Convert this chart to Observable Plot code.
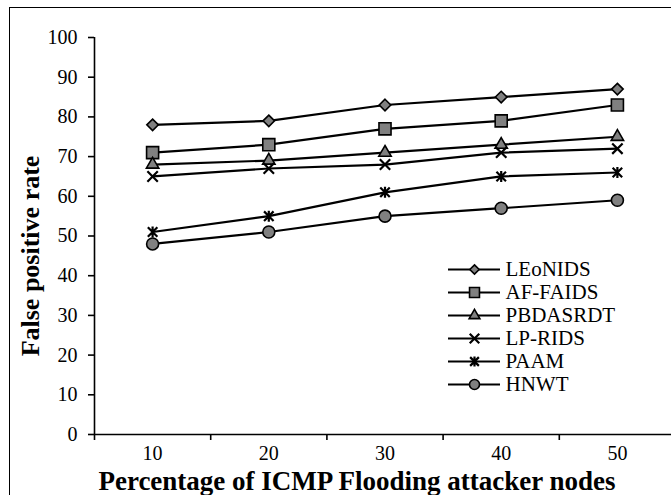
<!DOCTYPE html>
<html><head><meta charset="utf-8">
<script src="https://cdn.jsdelivr.net/npm/d3@7"></script>
<script src="https://cdn.jsdelivr.net/npm/@observablehq/plot@0.6"></script>
<style>
body{margin:0;background:#fff;}
#wrap{position:relative;width:671px;height:495px;overflow:hidden;background:#fff;}
#frame{position:absolute;left:9px;top:7px;width:700px;height:600px;border-left:1.6px solid #000;border-top:1.6px solid #000;}
#chart{position:absolute;left:0;top:0;}
#legend{position:absolute;left:440px;top:240px;}
svg{overflow:visible;font-family:"Liberation Serif","Times New Roman",serif !important;}
svg text{font-family:"Liberation Serif","Times New Roman",serif !important;}
</style></head><body>
<div id="wrap"><div id="frame"></div><div id="chart"></div><div id="legend"></div></div>
<script>
const categories = [10, 20, 30, 40, 50];
const seriesNames = ["LEoNIDS", "AF-FAIDS", "PBDASRDT", "LP-RIDS", "PAAM", "HNWT"];
const LEoNIDS  = [78, 79, 83, 85, 87];
const AF_FAIDS = [71, 73, 77, 79, 83];
const PBDASRDT = [68, 69, 71, 73, 75];
const LP_RIDS  = [65, 67, 68, 71, 72];
const PAAM     = [51, 55, 61, 65, 66];
const HNWT     = [48, 51, 55, 57, 59];
const yTicks = [0, 10, 20, 30, 40, 50, 60, 70, 80, 90, 100];
const xTitle = "Percentage of ICMP Flooding attacker nodes";
const yTitle = "False positive rate";

const seriesValues = [LEoNIDS, AF_FAIDS, PBDASRDT, LP_RIDS, PAAM, HNWT];
const rows = seriesNames.flatMap((s, si) => categories.map((c, i) => ({series: s, x: c, y: seriesValues[si][i]})));
const step = categories[1] - categories[0];
const boundaries = [...categories.map(c => c - step / 2), categories[categories.length - 1] + step / 2];

const starSymbol = {
  draw(ctx, size) {
    const r = Math.sqrt(size) * 0.56;
    ctx.moveTo(-r, -r); ctx.lineTo(r, r);
    ctx.moveTo(-r, r); ctx.lineTo(r, -r);
    ctx.moveTo(0, -r * 1.15); ctx.lineTo(0, r * 1.15);
  }
};
const GRAY = "#808080";
const markerStyle = {
  "LEoNIDS":  {symbol: "diamond2", fill: GRAY, r: 5.2, lr: 4.2},
  "AF-FAIDS": {symbol: "square", fill: GRAY, r: 6.8, lr: 5.6},
  "PBDASRDT": {symbol: "triangle", fill: GRAY, r: 4.6, lr: 4.0},
  "LP-RIDS":  {symbol: "times", fill: "none", r: 4.8, lr: 4.4},
  "PAAM":     {symbol: starSymbol, fill: "none", r: 4.8, lr: 4.4},
  "HNWT":     {symbol: "circle", fill: GRAY, r: 6, lr: 5}
};

const font = "Liberation Serif";

const chart = Plot.plot({
  width: 671, height: 495,
  marginLeft: 94, marginRight: 0, marginTop: 37, marginBottom: 61,
  x: {type: "linear", domain: [boundaries[0], boundaries[boundaries.length - 1]], range: [94, 675]},
  y: {domain: [0, 100]},
  style: {fontFamily: font, color: "#000", background: "transparent", overflow: "visible"},
  marks: [
    Plot.axisY({ticks: yTicks, tickSize: 6, tickPadding: 11, fontSize: 20, fontFamily: font, label: null, strokeWidth: 1.6}),
    Plot.axisX({ticks: boundaries, tickSize: 6, tickFormat: () => "", label: null, strokeWidth: 1.6}),
    Plot.axisX({ticks: categories, tickSize: 0, tickPadding: 11, fontSize: 20, fontFamily: font, label: null}),
    Plot.ruleX([boundaries[0]], {stroke: "#000", strokeWidth: 1.6}),
    Plot.ruleY([0], {stroke: "#000", strokeWidth: 1.6}),
    Plot.line(rows, {x: "x", y: "y", z: "series", stroke: "#000", strokeWidth: 2.2}),
    ...seriesNames.map(s => Plot.dot(rows.filter(d => d.series === s), {
      x: "x", y: "y", symbol: markerStyle[s].symbol, r: markerStyle[s].r,
      fill: markerStyle[s].fill, stroke: "#000",
      strokeWidth: markerStyle[s].fill === "none" ? 2.2 : 1.6
    })),
    Plot.text([yTitle], {frameAnchor: "left", rotate: -90, dx: -56, dy: 20, lineAnchor: "bottom", textAnchor: "middle",
      fontSize: 26, fontWeight: "bold", fontFamily: font, fill: "#000"}),
    Plot.text([xTitle], {frameAnchor: "bottom", dx: -26, dy: 55, lineAnchor: "bottom", textAnchor: "middle",
      fontSize: 27, fontWeight: "bold", fontFamily: font, fill: "#000"})
  ]
});
document.getElementById("chart").appendChild(chart);

const legend = Plot.plot({
  width: 200, height: 180, margin: 0,
  x: {domain: [0, 1], range: [8, 60], axis: null},
  y: {type: "point", domain: seriesNames, range: [15, 158.5], axis: null},
  style: {fontFamily: font, color: "#000", background: "transparent", overflow: "visible"},
  marks: [
    Plot.ruleY(seriesNames, {y: d => d, x1: 0, x2: 1, stroke: "#000", strokeWidth: 2.2}),
    ...seriesNames.map(s => Plot.dot([s], {
      x: 0.5, y: d => d, symbol: markerStyle[s].symbol, r: markerStyle[s].lr,
      fill: markerStyle[s].fill, stroke: "#000",
      strokeWidth: markerStyle[s].fill === "none" ? 2.2 : 1.6
    })),
    Plot.text(seriesNames, {x: 1, y: d => d, text: d => d, dx: 5, textAnchor: "start",
      fontSize: 21, fontFamily: font, fill: "#000"})
  ]
});
document.getElementById("legend").appendChild(legend);
</script>
</body></html>
